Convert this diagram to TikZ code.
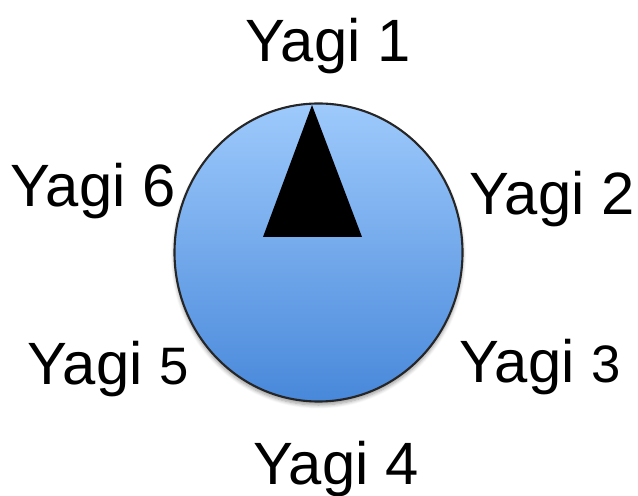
\documentclass[tikz,border=0pt]{standalone}
\usepackage{fontspec}
\setmainfont{Liberation Sans}
\usepackage{tikz}
\usetikzlibrary{positioning,shadows.blur}
\definecolor{dialtop}{RGB}{158,202,252}
\definecolor{dialbot}{RGB}{72,136,218}

\begin{document}
\begin{tikzpicture}[
  x=0.02cm, y=0.02cm,
  yagi/.style={font=\fontsize{34}{34}\selectfont,anchor=base,inner sep=0pt}
]
  \useasboundingbox (0,0) rectangle (638,496);

  % dial
  \coordinate (dial) at (318.5,243.5);
  \shade[top color=dialtop,bottom color=dialbot,draw=black!85,line width=1.2pt,
    blur shadow={shadow xshift=0pt,shadow yshift=-2pt,shadow blur steps=6}]
    (dial) ellipse [x radius=144, y radius=149];

  % pointer
  \fill[black] (312,391) -- (263,259) -- (362,259) -- cycle;

  % labels
  \node[yagi] (y1) at (328,434) {Yagi 1};
  \node[yagi] (y2) at (552,281) {Yagi 2};
  \node[yagi] (y3) at (540,113) {Yagi {\fontsize{30}{30}\selectfont 3}};
  \node[yagi] (y4) at (336,11)  {Yagi 4};
  \node[yagi] (y5) at (108,111) {Yagi {\fontsize{30}{30}\selectfont 5}};
  \node[yagi] (y6) at (93,289)  {Yagi 6};
\end{tikzpicture}
\end{document}
